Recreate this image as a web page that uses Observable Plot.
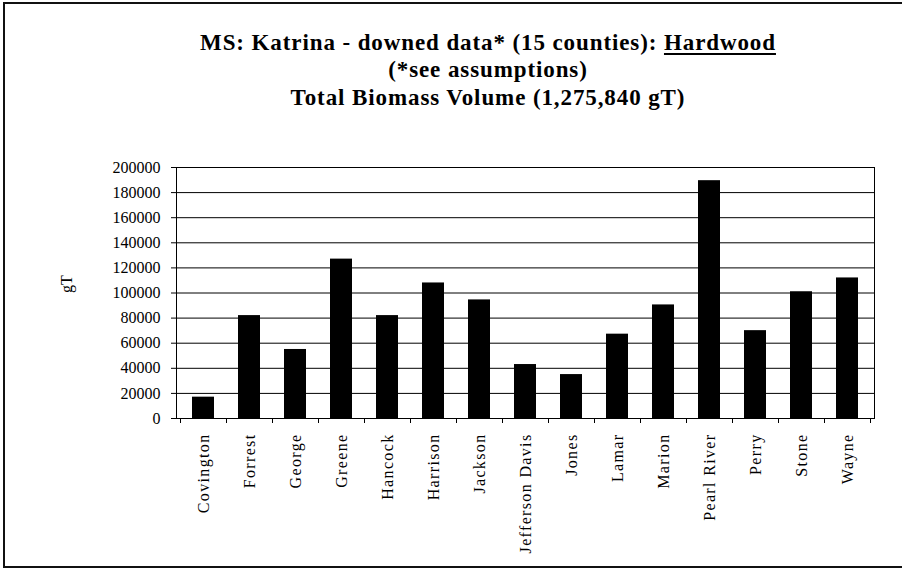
<!DOCTYPE html>
<html>
<head>
<meta charset="utf-8">
<script src="https://cdn.jsdelivr.net/npm/d3@7"></script>
<script src="https://cdn.jsdelivr.net/npm/@observablehq/plot@0.6"></script>
<style>
  html, body { margin: 0; padding: 0; background: #fff; }
  #wrap { position: relative; width: 902px; height: 570px; overflow: hidden; background: #fff; }
  #border { position: absolute; left: 3px; top: 2px; width: 1000px; height: 566px; border: 2px solid #111; box-sizing: border-box; }
  #title { position: absolute; left: 88px; top: 28.5px; width: 800px; text-align: center;
    font-family: "Liberation Serif", "Tinos", "Times New Roman", "DejaVu Serif", serif; font-weight: bold; font-size: 23px; letter-spacing: 0.9px; line-height: 27.5px; color: #000; }
  #title u { text-decoration-thickness: 2px; text-underline-offset: 3px; }
  #chart { position: absolute; left: 0; top: 0; }
  g[aria-label="x-axis tick label"] text { letter-spacing: 1.35px; }
</style>
</head>
<body>
<div id="wrap">
  <div id="border"></div>
  <div id="chart"></div>
  <div id="title">MS: Katrina - downed data* (15 counties): <u>Hardwood</u><br>(*see assumptions)<br>Total Biomass Volume (1,275,840 gT)</div>
</div>
<script>
const counties = ["Covington", "Forrest", "George", "Greene", "Hancock", "Harrison", "Jackson",
  "Jefferson Davis", "Jones", "Lamar", "Marion", "Pearl River", "Perry", "Stone", "Wayne"];
const values = [17000, 82000, 55000, 127000, 82000, 108000, 94500, 43000, 35000, 67200, 90500,
  189500, 70000, 101000, 112000];
const yTicks = [0, 20000, 40000, 60000, 80000, 100000, 120000, 140000, 160000, 180000, 200000];
const yLabel = "gT";

const data = counties.map((c, i) => ({county: c, value: values[i]}));

function boundaryTicks(index, scales, channels, dims) {
  const x = scales.x;
  const step = x.step(), bw = x.bandwidth();
  const y0 = dims.height - dims.marginBottom;
  const xs = x.domain().map(c => x(c) - (step - bw) / 2);
  xs.push(xs[xs.length - 1] + step);
  const g = d3.create("svg:g").attr("stroke", "#000").attr("stroke-width", 1);
  g.selectAll("line").data(xs).join("line")
    .attr("x1", d => Math.round(d) + 0.5).attr("x2", d => Math.round(d) + 0.5)
    .attr("y1", y0).attr("y2", y0 + 5);
  return g.node();
}

const chart = Plot.plot({
  width: 902,
  height: 570,
  marginTop: 167,
  marginBottom: 152,
  marginLeft: 176,
  marginRight: 28,
  style: {fontFamily: '"Liberation Serif", "Tinos", "Times New Roman", "DejaVu Serif", serif', background: "transparent"},
  x: {domain: counties, paddingInner: 0.53, paddingOuter: 0.265},
  y: {domain: [0, 200000]},
  marks: [
    Plot.gridY(yTicks, {stroke: "#000", strokeOpacity: 1, strokeWidth: 1}),
    Plot.barY(data, {x: "county", y: "value", fill: "#000"}),
    Plot.frame({stroke: "#000", strokeWidth: 1}),
    Plot.axisY(yTicks, {tickFormat: d => String(d), tickSize: 5, tickPadding: 11, fontSize: 16, label: null, stroke: "#000"}),
    Plot.axisX({tickSize: 0, tickRotate: -90, tickPadding: 15, fontSize: 16, label: null}),
    boundaryTicks,
    Plot.text([yLabel], {frameAnchor: "left", dx: -110, rotate: -90, fontSize: 16, fill: "#000"})
  ]
});
document.getElementById("chart").appendChild(chart);
</script>
</body>
</html>
